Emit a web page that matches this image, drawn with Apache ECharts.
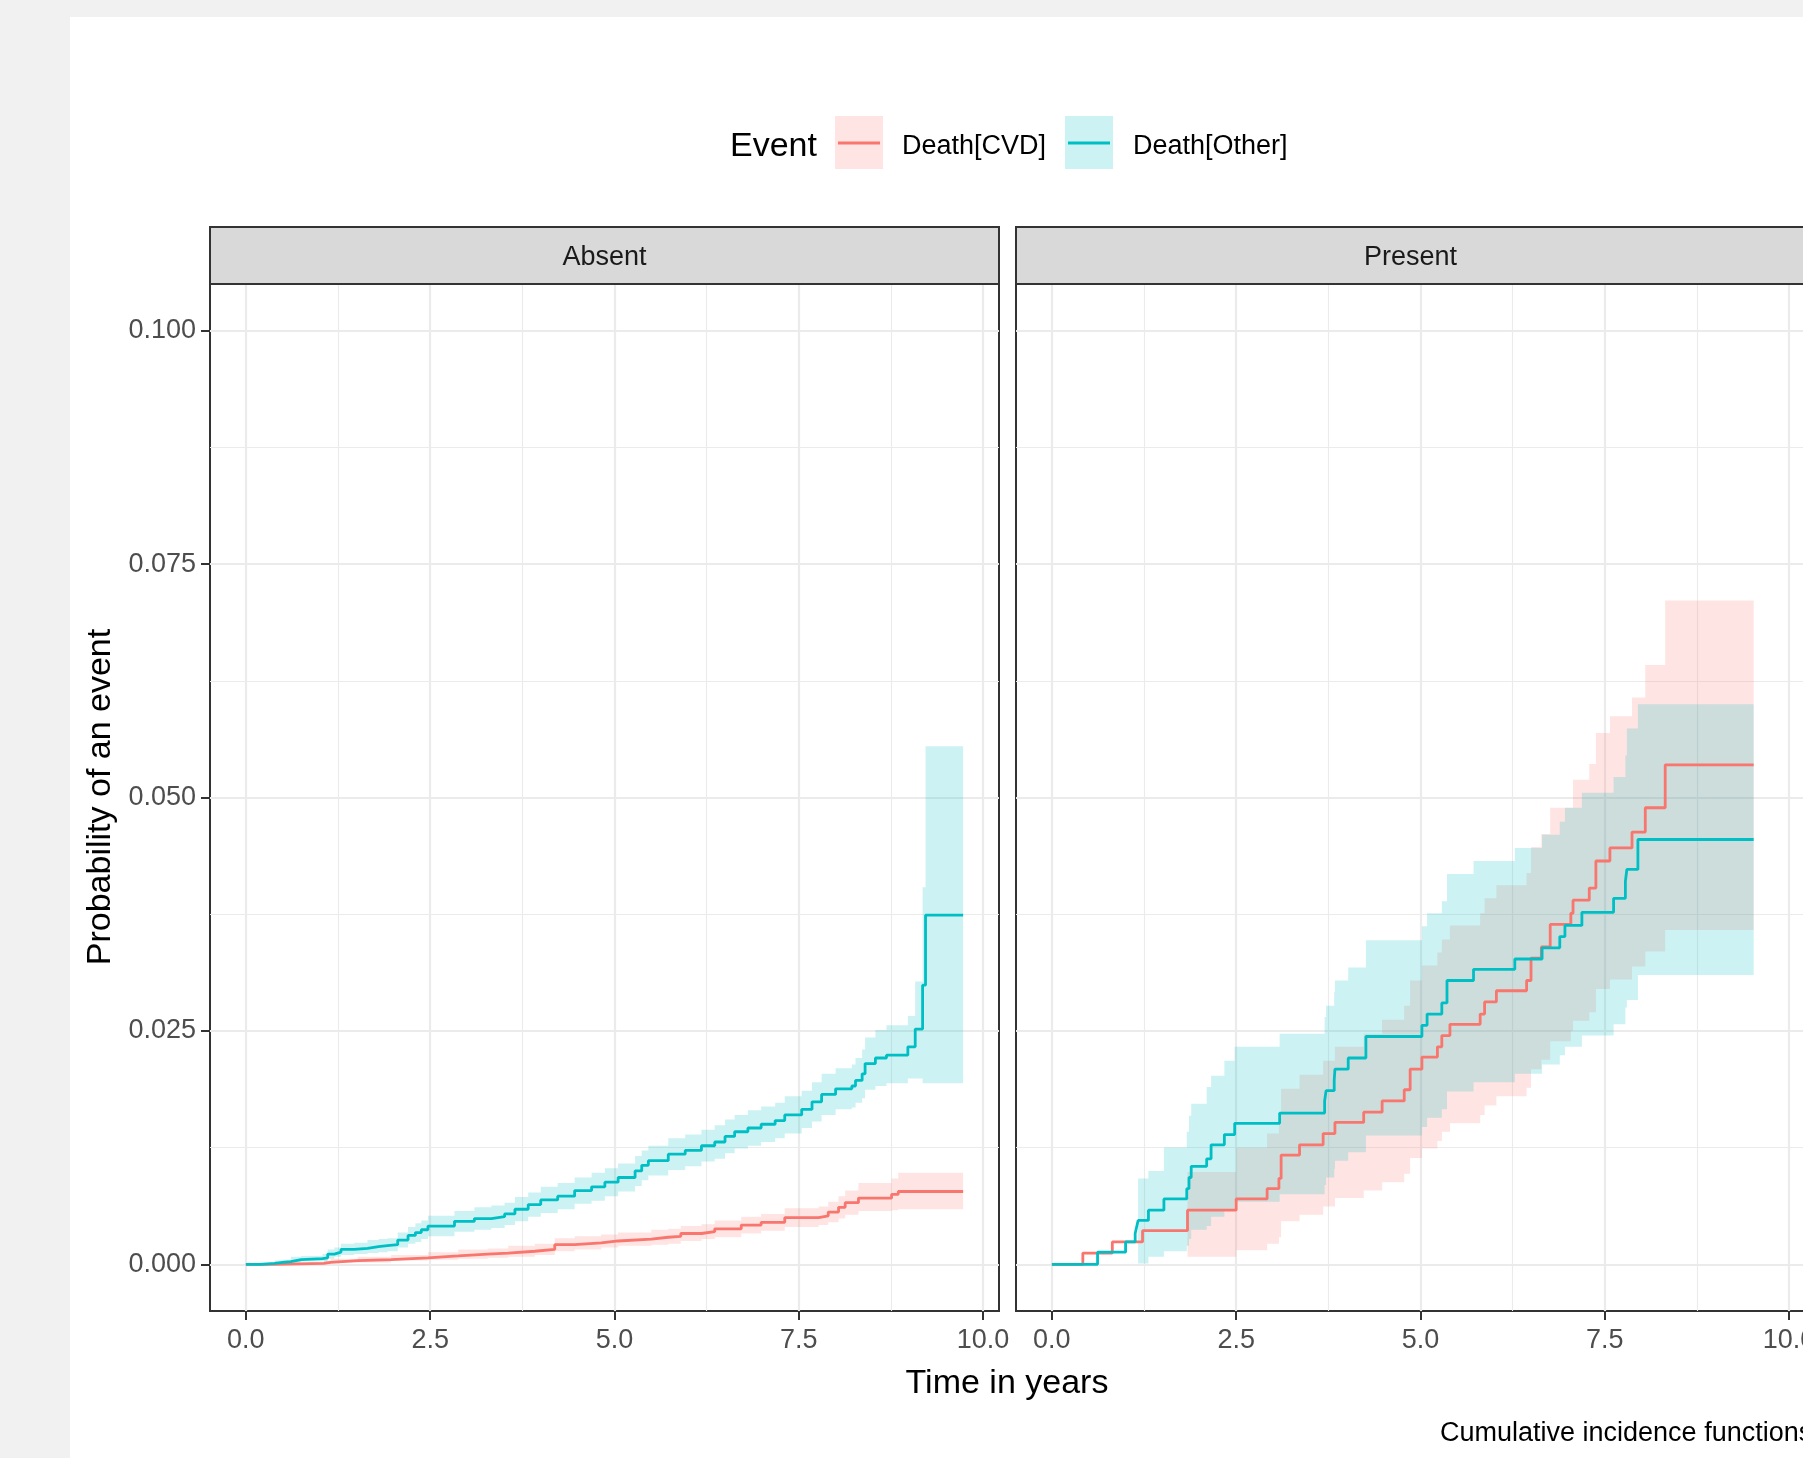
<!DOCTYPE html>
<html><head><meta charset="utf-8">
<script src="https://cdn.jsdelivr.net/npm/echarts@6/dist/echarts.min.js"></script>
<style>
html,body{margin:0;padding:0;width:1803px;height:1458px;overflow:hidden;background:#F1F1F1;position:relative;}
#paper{position:absolute;left:70px;top:17px;right:0;bottom:0;background:#ffffff;}
#chart{position:absolute;left:0;top:0;width:1840px;height:1458px;}
</style></head><body>
<div id="paper"></div><div id="chart"></div>
<script>
const panels = ['Absent', 'Present'];
const events = ['Death[CVD]', 'Death[Other]'];
const legendTitle = 'Event';
const xTitle = 'Time in years';
const yTitle = 'Probability of an event';
const caption = 'Cumulative incidence functions';
const xTicks = [0, 2.5, 5, 7.5, 10];
const xMinor = [1.25, 3.75, 6.25, 8.75];
const yTicks = [0, 0.025, 0.05, 0.075, 0.1];
const yMinor = [0.0125, 0.0375, 0.0625, 0.0875];

// rows: [time, estimate, lower, upper]
const absentCVD = [
[0,0,0,0],[0.39,0.0001,0,0.0002],[1.06,0.0002,0.0001,0.0004],[1.15,0.0004,0.0002,0.0006],
[1.52,0.0005,0.0002,0.0008],[1.97,0.0007,0.0004,0.0010],[2.47,0.0009,0.0005,0.0013],
[2.88,0.0011,0.0006,0.0016],[3.28,0.0012,0.0007,0.0017],[3.56,0.0014,0.0008,0.0020],
[3.92,0.0016,0.0010,0.0022],[4.19,0.0021,0.0014,0.0028],[4.46,0.0023,0.0016,0.0030],
[4.82,0.0025,0.0018,0.0032],[5.05,0.0027,0.0020,0.0034],[5.5,0.0029,0.0021,0.0037],
[5.73,0.0030,0.0022,0.0038],[5.9,0.0033,0.0025,0.0041],[6.18,0.0035,0.0027,0.0043],
[6.36,0.0038,0.0029,0.0047],[6.72,0.0042,0.0033,0.0051],[6.99,0.0045,0.0036,0.0054],
[7.31,0.0050,0.0040,0.0060],[7.77,0.0052,0.0042,0.0062],[7.9,0.0056,0.0045,0.0067],
[8.04,0.0061,0.0049,0.0073],[8.13,0.0066,0.0053,0.0079],[8.31,0.0071,0.0057,0.0087],
[8.76,0.0075,0.0058,0.0092],[8.85,0.0078,0.0059,0.0098],[9.73,0.0078,0.0059,0.0098]
];
const absentOther = [
[0,0,0,0],[0.2,0.0001,0,0.0002],[0.39,0.0002,0,0.0004],[0.5,0.0003,0.0001,0.0005],
[0.61,0.0005,0.0002,0.0008],[0.75,0.0006,0.0003,0.0009],[1.04,0.0007,0.0003,0.0011],
[1.11,0.0011,0.0006,0.0016],[1.2,0.0013,0.0008,0.0018],[1.29,0.0016,0.0010,0.0022],
[1.47,0.0017,0.0011,0.0023],[1.65,0.0019,0.0012,0.0026],[1.8,0.0020,0.0013,0.0027],
[1.92,0.0021,0.0014,0.0028],[2.06,0.0026,0.0018,0.0034],[2.2,0.0031,0.0022,0.0040],
[2.3,0.0034,0.0024,0.0044],[2.38,0.0037,0.0027,0.0047],[2.47,0.0041,0.0030,0.0052],
[2.83,0.0046,0.0035,0.0057],[3.1,0.0049,0.0037,0.0061],[3.33,0.0051,0.0039,0.0063],
[3.51,0.0054,0.0042,0.0066],[3.65,0.0059,0.0046,0.0072],[3.83,0.0064,0.0051,0.0077],
[4.0,0.0069,0.0055,0.0083],[4.23,0.0073,0.0059,0.0087],[4.46,0.0079,0.0065,0.0093],
[4.69,0.0083,0.0068,0.0098],[4.87,0.0088,0.0073,0.0103],[5.05,0.0093,0.0078,0.0108],
[5.28,0.0100,0.0084,0.0116],[5.37,0.0106,0.0090,0.0122],[5.46,0.0111,0.0095,0.0127],
[5.73,0.0118,0.0101,0.0135],[5.96,0.0122,0.0105,0.0139],[6.18,0.0127,0.0110,0.0144],
[6.36,0.0131,0.0113,0.0149],[6.5,0.0137,0.0119,0.0155],[6.63,0.0142,0.0124,0.0160],
[6.81,0.0146,0.0127,0.0165],[6.99,0.0150,0.0131,0.0169],[7.18,0.0154,0.0135,0.0173],
[7.31,0.0160,0.0140,0.0180],[7.54,0.0166,0.0146,0.0186],[7.68,0.0174,0.0153,0.0195],
[7.81,0.0182,0.0160,0.0204],[8.0,0.0188,0.0166,0.0210],[8.22,0.0191,0.0168,0.0214],
[8.27,0.0197,0.0173,0.0221],[8.36,0.0204,0.0178,0.0230],[8.4,0.0215,0.0187,0.0243],
[8.54,0.0221,0.0191,0.0251],[8.69,0.0224,0.0194,0.0256],[8.98,0.0233,0.0199,0.0266],
[9.08,0.0252,0.0199,0.0303],[9.18,0.0299,0.0194,0.0404],[9.22,0.0374,0.0194,0.0555],
[9.73,0.0374,0.0194,0.0555]
];
const presentCVD = [
[0,0,null,null],[0.42,0.0012,null,null],[0.82,0.0024,null,null],[1.23,0.0036,null,null],
[1.84,0.0058,0.0008,0.0099],[2.5,0.0070,0.0015,0.0125],[2.92,0.0081,0.0022,0.0140],
[3.08,0.0092,0.0029,0.0155],[3.11,0.0117,0.0046,0.0188],[3.36,0.0128,0.0053,0.0203],
[3.68,0.0140,0.0062,0.0218],[3.84,0.0152,0.0071,0.0233],[4.23,0.0163,0.0079,0.0247],
[4.48,0.0175,0.0088,0.0262],[4.78,0.0187,0.0097,0.0277],[4.86,0.0209,0.0114,0.0304],
[5.02,0.0222,0.0124,0.0320],[5.23,0.0233,0.0132,0.0334],[5.29,0.0245,0.0142,0.0348],
[5.4,0.0257,0.0151,0.0363],[5.81,0.0268,0.0160,0.0376],[5.87,0.0281,0.0170,0.0392],
[6.03,0.0293,0.0180,0.0406],[6.44,0.0304,0.0189,0.0419],[6.5,0.0328,0.0209,0.0447],
[6.64,0.0340,0.0219,0.0461],[6.76,0.0364,0.0239,0.0489],[7.04,0.0376,0.0250,0.0489],
[7.07,0.0390,0.0261,0.0519],[7.29,0.0403,0.0270,0.0536],[7.38,0.0432,0.0295,0.0569],
[7.57,0.0446,0.0305,0.0587],[7.87,0.0463,0.0319,0.0607],[8.05,0.0489,0.0335,0.0642],
[8.32,0.0535,0.0358,0.0711],[9.52,0.0535,0.0358,0.0711]
];
const presentOther = [
[0,0,null,null],[0.62,0.0013,null,null],[1.0,0.0024,null,null],[1.13,0.0033,null,null],
[1.15,0.0040,null,null],[1.17,0.0047,0.0001,0.0092],[1.31,0.0058,0.0008,0.0100],
[1.52,0.0070,0.0014,0.0125],[1.83,0.0081,0.0020,0.0142],[1.86,0.0093,0.0027,0.0159],
[1.89,0.0105,0.0037,0.0172],[2.1,0.0113,0.0041,0.0190],[2.16,0.0128,0.0051,0.0202],
[2.34,0.0139,0.0059,0.0218],[2.48,0.0151,0.0067,0.0233],[3.09,0.0162,0.0075,0.0247],
[3.7,0.0175,0.0085,0.0265],[3.72,0.0186,0.0093,0.0277],[3.83,0.0197,0.0102,0.0292],
[3.84,0.0209,0.0111,0.0304],[4.02,0.0221,0.0120,0.0318],[4.26,0.0244,0.0138,0.0347],
[5.02,0.0256,0.0147,0.0362],[5.09,0.0268,0.0157,0.0376],[5.29,0.0280,0.0166,0.0389],
[5.36,0.0304,0.0185,0.0418],[5.72,0.0316,0.0195,0.0432],[6.28,0.0327,0.0204,0.0446],
[6.65,0.0339,0.0214,0.0460],[6.89,0.0351,0.0224,0.0474],[6.96,0.0363,0.0233,0.0489],
[7.19,0.0377,0.0245,0.0505],[7.62,0.0392,0.0257,0.0522],[7.78,0.0410,0.0275,0.0545],
[7.8,0.0423,0.0283,0.0574],[7.95,0.0455,0.0310,0.0600],[9.52,0.0455,0.0310,0.0600]
];

const FONT = '"Liberation Sans", Arial, sans-serif';
const RED = '#F8766D', TEAL = '#00BFC4';
const RED_FILL = 'rgba(248,118,109,0.2)', TEAL_FILL = 'rgba(0,191,196,0.2)';
const X_MIN = -0.4865, X_MAX = 10.2165, Y_MIN = -0.005, Y_MAX = 0.105;
const GRIDS = [{left:210, top:284, width:789, height:1027},{left:1016, top:284, width:789, height:1027}];

function ribbon(rows, gi, fill) {
  const r = rows.filter(d => d[2] != null);
  return {
    type:'custom', xAxisIndex: gi*2, yAxisIndex: gi*2, silent:true, animation:false, z:2, clip:true,
    data: r.map(d => [d[0], d[2], d[3]]),
    encode: {x: 0, y: [1, 2]},
    renderItem: function (params, api) {
      if (params.dataIndex !== 0) return null;
      const n = r.length, up = [], lo = [];
      for (let i = 0; i < n; i++) {
        const t0 = r[i][0], t1 = i < n - 1 ? r[i + 1][0] : r[i][0];
        up.push(api.coord([t0, r[i][3]]), api.coord([t1, r[i][3]]));
        lo.push(api.coord([t0, r[i][2]]), api.coord([t1, r[i][2]]));
      }
      return {type:'polygon', shape:{points: up.concat(lo.reverse())}, style:{fill: fill}};
    }
  };
}
function curve(rows, gi, color) {
  return {type:'line', xAxisIndex: gi*2, yAxisIndex: gi*2, step:'end', symbol:'none',
    animation:false, silent:true, data: rows.map(d => [d[0], d[1]]),
    lineStyle:{color: color, width:2.8}, z:3};
}
function xAxes(gi) {
  return [
    {type:'value', gridIndex:gi, min:X_MIN, max:X_MAX, position:'bottom',
     axisLine:{show:false, onZero:false},
     axisTick:{show:true, customValues:xTicks, length:9, lineStyle:{color:'#333333', width:2}},
     axisLabel:{show:true, customValues:xTicks, formatter:v => v.toFixed(1), margin:16,
       color:'#4D4D4D', fontSize:27, fontFamily:FONT},
     splitLine:{show:true, lineStyle:{color:'#EBEBEB', width:2.2}}},
    {type:'value', gridIndex:gi, min:X_MIN, max:X_MAX, position:'top',
     axisLine:{show:false, onZero:false}, axisTick:{show:false, customValues:xMinor},
     axisLabel:{show:false, customValues:xMinor},
     splitLine:{show:true, lineStyle:{color:'#EBEBEB', width:1.1}}}
  ];
}
function yAxes(gi) {
  return [
    {type:'value', gridIndex:gi, min:Y_MIN, max:Y_MAX, position:'left',
     axisLine:{show:false, onZero:false},
     axisTick:{show: gi === 0, customValues:yTicks, length:9, lineStyle:{color:'#333333', width:2}},
     axisLabel:{show: gi === 0, customValues:yTicks, formatter:v => v.toFixed(3), margin:14,
       color:'#4D4D4D', fontSize:27, fontFamily:FONT},
     splitLine:{show:true, lineStyle:{color:'#EBEBEB', width:2.2}}},
    {type:'value', gridIndex:gi, min:Y_MIN, max:Y_MAX, position:'right',
     axisLine:{show:false, onZero:false}, axisTick:{show:false, customValues:yMinor},
     axisLabel:{show:false, customValues:yMinor},
     splitLine:{show:true, lineStyle:{color:'#EBEBEB', width:1.1}}}
  ];
}

const series = [
  ribbon(absentCVD, 0, RED_FILL), ribbon(absentOther, 0, TEAL_FILL),
  ribbon(presentCVD, 1, RED_FILL), ribbon(presentOther, 1, TEAL_FILL),
  curve(absentCVD, 0, RED), curve(absentOther, 0, TEAL),
  curve(presentCVD, 1, RED), curve(presentOther, 1, TEAL)
];

const graphic = [];
GRIDS.forEach((g, i) => {
  graphic.push({type:'rect', shape:{x:g.left, y:227, width:g.width, height:57},
    style:{fill:'#D9D9D9', stroke:'#333333', lineWidth:2}, z:10});
  graphic.push({type:'text', x:g.left + g.width/2, y:258, z:11,
    style:{text:panels[i], font:'27px ' + FONT, fill:'#1A1A1A', align:'center', verticalAlign:'middle'}});
});
graphic.push({type:'text', x:730, y:147, z:11,
  style:{text:legendTitle, font:'34px ' + FONT, fill:'#000000', align:'left', verticalAlign:'middle'}});
[[835, RED_FILL, RED, 902], [1065, TEAL_FILL, TEAL, 1133]].forEach((k, i) => {
  graphic.push({type:'rect', shape:{x:k[0], y:116, width:48, height:53}, style:{fill:k[1]}, z:10});
  graphic.push({type:'line', shape:{x1:k[0]+3, y1:143, x2:k[0]+45, y2:143}, style:{stroke:k[2], lineWidth:3}, z:11});
  graphic.push({type:'text', x:k[3], y:147, z:11,
    style:{text:events[i], font:'27px ' + FONT, fill:'#000000', align:'left', verticalAlign:'middle'}});
});
graphic.push({type:'text', x:1007, y:1384, z:11,
  style:{text:xTitle, font:'34px ' + FONT, fill:'#000000', align:'center', verticalAlign:'middle'}});
graphic.push({type:'text', x:101, y:797, rotation:Math.PI/2, z:11,
  style:{text:yTitle, font:'34px ' + FONT, fill:'#000000', align:'center', verticalAlign:'middle'}});
graphic.push({type:'text', x:1440, y:1434, z:11,
  style:{text:caption, font:'27px ' + FONT, fill:'#000000', align:'left', verticalAlign:'middle'}});

const chart = echarts.init(document.getElementById('chart'), null, {renderer:'canvas'});
chart.setOption({
  animation:false,
  backgroundColor:'transparent',
  grid: GRIDS.map(g => Object.assign({show:true, borderColor:'#333333', borderWidth:2,
    backgroundColor:'transparent', containLabel:false, outerBoundsMode:'none'}, g)),
  xAxis: xAxes(0).concat(xAxes(1)),
  yAxis: yAxes(0).concat(yAxes(1)),
  series: series,
  graphic: graphic
});
</script></body></html>
